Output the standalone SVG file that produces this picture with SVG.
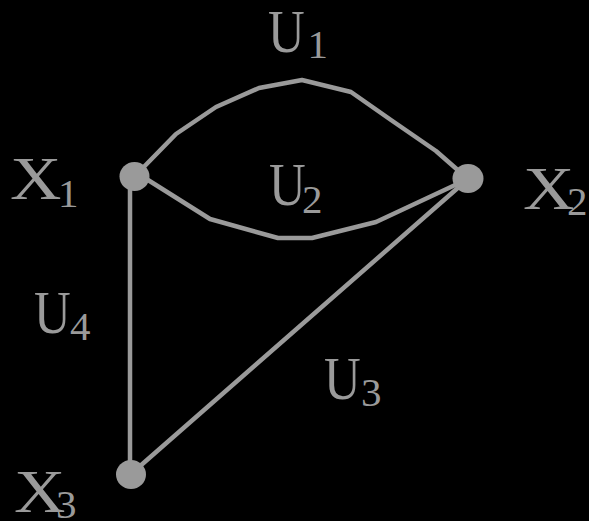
<svg xmlns="http://www.w3.org/2000/svg" width="589" height="521" viewBox="0 0 589 521">
<style>
.e{fill:none;stroke:#9a9a9a;stroke-width:4.5;stroke-linejoin:round;stroke-linecap:round}
.n{fill:#9a9a9a}
.t{font-size:62px;fill:#9a9a9a}
.s{font-size:41px;fill:#9a9a9a}
</style>
<rect width="589" height="521" fill="#000"/>
<g id="connectors">
<path id="U1" class="e" d="M134,177 L176,134 L216,107 L259,88 L302,80 L351,92 L391,120 L436,151 L468,179"/>
<path id="U2" class="e" d="M134,177 L148,180 L210,219 L278,238 L312,238 L376,222 L468,179"/>
<line id="U3" class="e" x1="131" y1="474" x2="468" y2="179"/>
<line id="U4" class="e" x1="130" y1="177" x2="130" y2="474"/>
</g>
<g id="X1"><ellipse class="n" cx="134.5" cy="176.5" rx="15" ry="14.5"/></g>
<g id="X2"><ellipse class="n" cx="468" cy="178.5" rx="15.5" ry="14.5"/></g>
<g id="X3"><ellipse class="n" cx="131" cy="474.5" rx="15" ry="14.5"/></g>
<g id="labels" font-family="Liberation Serif, serif">
<g id="lX1"><text class="t" transform="translate(10,199) scale(1.15,1)">X</text><text class="s" x="58" y="207">1</text></g>
<g id="lX2"><text class="t" transform="translate(523,209) scale(1.15,1)">X</text><text class="s" x="567" y="215">2</text></g>
<g id="lX3"><text class="t" transform="translate(14,512) scale(1.15,1)">X</text><text class="s" x="56" y="518">3</text></g>
<g id="lU1"><text class="t" transform="translate(268,52) scale(0.82,1)">U</text><text class="s" x="307.5" y="58">1</text></g>
<g id="lU2"><text class="t" transform="translate(269,205) scale(0.82,1)">U</text><text class="s" x="302" y="213">2</text></g>
<g id="lU3"><text class="t" transform="translate(324,399) scale(0.82,1)">U</text><text class="s" x="361" y="406">3</text></g>
<g id="lU4"><text class="t" transform="translate(34,333) scale(0.82,1)">U</text><text class="s" x="70" y="340">4</text></g>
</g>
</svg>
